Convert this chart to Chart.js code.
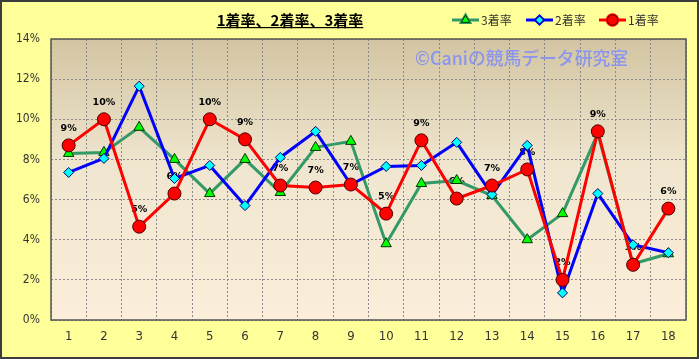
<!DOCTYPE html>
<html>
<head>
<meta charset="utf-8">
<script src="https://cdn.jsdelivr.net/npm/chart.js@4"></script>
<style>
  html, body { margin: 0; padding: 0; background: #FFFF99; }
  #wrap { width: 699px; height: 359px; }
</style>
</head>
<body>
<div id="wrap"><canvas id="rateChart" width="699" height="359"></canvas></div>
<script>
// 馬番ごとの着率 (%)
const categories = ['1','2','3','4','5','6','7','8','9','10','11','12','13','14','15','16','17','18'];
const win   = [8.7, 10.0, 4.65, 6.3, 10.0, 9.0, 6.7, 6.6, 6.75, 5.3, 8.95, 6.05, 6.7, 7.5, 2.0, 9.4, 2.75, 5.55];   // 1着率
const place = [7.35, 8.05, 11.65, 7.05, 7.7, 5.7, 8.1, 9.4, 6.75, 7.65, 7.7, 8.85, 6.25, 8.7, 1.35, 6.3, 3.75, 3.35]; // 2着率
const show  = [8.3, 8.35, 9.6, 8.0, 6.3, 8.0, 6.35, 8.6, 8.9, 3.8, 6.8, 6.95, 6.2, 4.0, 5.3, 9.3, 2.8, 3.3];        // 3着率
const yTicks = [0, 2, 4, 6, 8, 10, 12, 14];

const TITLE = '1着率、2着率、3着率';
const WATERMARK = '©Caniの競馬データ研究室';
const CJK = '"Noto Sans CJK JP", "Noto Sans", sans-serif';
const NARROW = '"DejaVu Sans Condensed", "Liberation Sans Narrow", "Liberation Sans", sans-serif';

// 背景・枠・透かし・タイトル・凡例
const decorPlugin = {
    id: 'decor',
    beforeDraw(chart) {
        const ctx = chart.ctx;
        const a = chart.chartArea;
        ctx.save();
        ctx.fillStyle = '#FFFF99';
        ctx.fillRect(0, 0, chart.width, chart.height);
        ctx.strokeStyle = '#3c3c3c';
        ctx.lineWidth = 2;
        ctx.strokeRect(1, 1, chart.width - 2, chart.height - 2);

        const g = ctx.createLinearGradient(0, a.top, 0, a.bottom);
        g.addColorStop(0, '#D3C5A2');
        g.addColorStop(0.45, '#F0E6CF');
        g.addColorStop(1, '#FCEEDA');
        ctx.fillStyle = g;
        ctx.fillRect(a.left, a.top, a.right - a.left, a.bottom - a.top);
        ctx.restore();
    },
    beforeDatasetsDraw(chart) {
        const ctx = chart.ctx;
        const a = chart.chartArea;
        ctx.save();
        // plot frame
        ctx.strokeStyle = '#555555';
        ctx.lineWidth = 1.5;
        ctx.strokeRect(a.left, a.top, a.right - a.left, a.bottom - a.top);

        // watermark
        ctx.fillStyle = '#8A95EE';
        ctx.font = '500 18px ' + CJK;
        ctx.textAlign = 'left';
        ctx.textBaseline = 'middle';
        ctx.fillText(WATERMARK, 415, 58, 213);

        // 1着率のデータラベル (他の系列のマーカーの下に描く)
        const meta = chart.getDatasetMeta(0);
        ctx.fillStyle = '#000000';
        ctx.font = 'bold 9.5px "DejaVu Sans", sans-serif';
        ctx.textAlign = 'center';
        ctx.textBaseline = 'middle';
        meta.data.forEach((pt, i) => {
            ctx.fillText(Math.round(win[i]) + '%', pt.x, pt.y - 17);
        });
        ctx.restore();
    },
    afterDraw(chart) {
        const ctx = chart.ctx;
        ctx.save();
        // title
        ctx.fillStyle = '#000000';
        ctx.font = 'bold 15px ' + CJK;
        ctx.textAlign = 'center';
        ctx.textBaseline = 'middle';
        const tw = ctx.measureText(TITLE).width;
        ctx.fillText(TITLE, 290, 20);
        ctx.fillRect(290 - tw / 2, 27, tw, 1.2);

        // legend
        const items = [
            { ds: chart.data.datasets[2], x: 452 },
            { ds: chart.data.datasets[1], x: 526 },
            { ds: chart.data.datasets[0], x: 599 }
        ];
        items.forEach(it => {
            const ds = it.ds;
            ctx.strokeStyle = ds.borderColor;
            ctx.lineWidth = 3;
            ctx.beginPath();
            ctx.moveTo(it.x, 20);
            ctx.lineTo(it.x + 27, 20);
            ctx.stroke();
            Chart.helpers.drawPoint(ctx, {
                pointStyle: ds.pointStyle,
                radius: ds.pointRadius * 0.8,
                borderWidth: 1
            }, it.x + 13.5, 20);
            ctx.fillStyle = ds.pointBackgroundColor;
            ctx.strokeStyle = ds.pointBorderColor;
            ctx.lineWidth = 1;
            ctx.fill();
            ctx.stroke();
            ctx.fillStyle = '#333333';
            ctx.font = '12px ' + CJK;
            ctx.textAlign = 'left';
            ctx.textBaseline = 'middle';
            ctx.fillText(ds.label, it.x + 29, 20);
        });
        ctx.restore();
    }
};

const ctx = document.getElementById('rateChart').getContext('2d');

new Chart(ctx, {
    type: 'line',
    data: {
        labels: categories,
        datasets: [
            {
                label: '1着率',
                data: win,
                borderColor: '#FF0000',
                borderWidth: 3,
                pointStyle: 'circle',
                pointRadius: 6.5,
                pointBackgroundColor: '#FF0000',
                pointBorderColor: '#4a0000',
                pointBorderWidth: 1,
                tension: 0
            },
            {
                label: '2着率',
                data: place,
                borderColor: '#0000FF',
                borderWidth: 3,
                pointStyle: 'rectRot',
                pointRadius: 5,
                pointBackgroundColor: '#00FFFF',
                pointBorderColor: '#000066',
                pointBorderWidth: 1,
                tension: 0
            },
            {
                label: '3着率',
                data: show,
                borderColor: '#339966',
                borderWidth: 3,
                pointStyle: 'triangle',
                pointRadius: 6,
                pointBackgroundColor: '#00FF00',
                pointBorderColor: '#003300',
                pointBorderWidth: 1,
                tension: 0
            }
        ]
    },
    options: {
        responsive: false,
        animation: false,
        layout: {
            padding: { left: 0, right: 13, top: 39, bottom: 0 }
        },
        plugins: {
            legend: { display: false },
            title: { display: false },
            tooltip: { enabled: false }
        },
        scales: {
            x: {
                type: 'category',
                offset: true,
                afterFit: (s) => { s.height = 39; },
                grid: {
                    offset: true,
                    color: '#8a8a8a',
                    lineWidth: 1,
                    drawTicks: false
                },
                border: { display: false, dash: [2, 2] },
                ticks: {
                    color: '#333333',
                    padding: 9,
                    font: { family: NARROW, size: 13 }
                }
            },
            y: {
                min: 0,
                max: 14,
                afterFit: (s) => { s.width = 51; },
                afterBuildTicks: (s) => { s.ticks = yTicks.map(v => ({ value: v })); },
                grid: {
                    color: '#8a8a8a',
                    lineWidth: 1,
                    drawTicks: false
                },
                border: { display: false, dash: [2, 2] },
                ticks: {
                    color: '#333333',
                    padding: 11,
                    font: { family: NARROW, size: 12 },
                    callback: (v) => v + '%'
                }
            }
        }
    },
    plugins: [decorPlugin]
});
</script>
</body>
</html>
